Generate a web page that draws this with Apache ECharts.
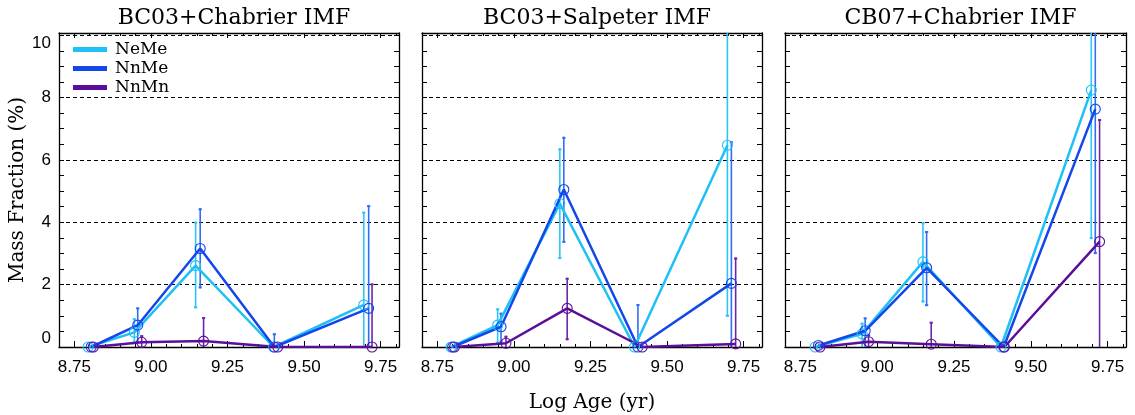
<!DOCTYPE html>
<html>
<head>
<meta charset="utf-8">
<script src="https://cdn.jsdelivr.net/npm/echarts@6/dist/echarts.min.js"></script>
<style>
  html, body { margin: 0; background: #fff; }
  #chart { width: 1135px; height: 415px; }
</style>
</head>
<body>
<div id="chart"></div>
<script>
const panelTitles = ["BC03+Chabrier IMF", "BC03+Salpeter IMF", "CB07+Chabrier IMF"];
const seriesNames = ["NeMe", "NnMe", "NnMn"];
const xTicks = [8.75, 9.0, 9.25, 9.5, 9.75];
const yTicks = [0, 2, 4, 6, 8, 10];

// rows: NeMe, NnMe, NnMn  (log age, mass fraction %, lower / upper end of error bar)
const bc03chAge = [
  [8.795, 8.946, 9.146, 9.401, 9.695],
  [8.805, 8.957, 9.161, 9.403, 9.711],
  [8.812, 8.970, 9.172, 9.414, 9.722],
];
const bc03chFrac = [
  [0, 0.47, 2.61, 0, 1.35],
  [0, 0.70, 3.16, 0, 1.24],
  [0, 0.15, 0.19, 0, 0],
];
const bc03chLo = [
  [0, 0.12, 1.24, 0, 0],
  [0, 0.13, 1.88, 0, 0],
  [0, 0, 0, 0, 0],
];
const bc03chHi = [
  [0, 0.92, 4.02, 0, 4.34],
  [0, 1.27, 4.45, 0.44, 4.55],
  [0, 0.38, 0.96, 0, 2.04],
];

const bc03saAge = [
  [8.795, 8.947, 9.150, 9.394, 9.697],
  [8.800, 8.958, 9.163, 9.405, 9.710],
  [8.806, 8.974, 9.174, 9.419, 9.724],
];
const bc03saFrac = [
  [0, 0.70, 4.60, 0, 6.47],
  [0, 0.65, 5.05, 0, 2.04],
  [0, 0.12, 1.24, 0, 0.10],
];
const bc03saLo = [
  [0, 0.10, 2.82, 0, 0.97],
  [0, 0.14, 3.34, 0, 0],
  [0, 0, 0.22, 0, 0],
];
const bc03saHi = [
  [0, 1.24, 6.37, 0, 11],
  [0, 1.10, 6.74, 1.38, 6.60],
  [0, 0.36, 2.22, 0, 2.87],
];

const cb07chAge = [
  [8.798, 8.951, 9.149, 9.403, 9.697],
  [8.809, 8.961, 9.161, 9.412, 9.710],
  [8.814, 8.972, 9.176, 9.414, 9.724],
];
const cb07chFrac = [
  [0, 0.42, 2.73, 0, 8.24],
  [0.05, 0.52, 2.54, 0, 7.63],
  [0, 0.17, 0.09, 0, 3.38],
];
const cb07chLo = [
  [0, 0, 1.43, 0, 3.46],
  [0, 0, 1.31, 0, 2.98],
  [0, 0, 0, 0, 0],
];
const cb07chHi = [
  [0, 0.78, 4.00, 0, 11],
  [0, 0.95, 3.72, 0.20, 11],
  [0, 0.41, 0.81, 0, 7.31],
];

const panels = [
  { age: bc03chAge, frac: bc03chFrac, lo: bc03chLo, hi: bc03chHi },
  { age: bc03saAge, frac: bc03saFrac, lo: bc03saLo, hi: bc03saHi },
  { age: cb07chAge, frac: cb07chFrac, lo: cb07chLo, hi: cb07chHi },
];

const lineColors = ["#1ec0f5", "#1447eb", "#5b0e99"];
const barColors = ["#2cc6f6", "#2f6ff5", "#6a28a8"];
const gridLeft = [59, 422, 785];
const gridWidth = [340, 340, 341];
const X_MIN = 8.7, X_MAX = 9.81, Y_MIN = 0, Y_MAX = 10.07;

const serif = "DejaVu Serif";
const sans = "Liberation Sans";

const xMinor = [];
for (let i = 0; i <= 22; i++) {
  const v = +(8.7 + i * 0.05).toFixed(2);
  if (!xTicks.some((t) => Math.abs(t - v) < 1e-6)) xMinor.push(v);
}
const yMinor = [];
for (let i = 1; i <= 20; i++) {
  if (i % 4 !== 0) yMinor.push(i * 0.5);
}

const black = "#000";
const grids = [], xAxes = [], yAxes = [], series = [];

function xAxis(p, position, ticks, len, showLine, extra) {
  return Object.assign({
    type: "value", gridIndex: p, position, min: X_MIN, max: X_MAX,
    axisLine: { show: showLine, onZero: false, lineStyle: { color: black, width: 1.3 } },
    axisTick: { show: true, inside: true, length: len, customValues: ticks, lineStyle: { color: black, width: 1 } },
    axisLabel: { show: false },
    splitLine: { show: false },
  }, extra || {});
}
function yAxis(p, position, ticks, len, showLine, extra) {
  return Object.assign({
    type: "value", gridIndex: p, position, min: Y_MIN, max: Y_MAX,
    axisLine: { show: showLine, onZero: false, lineStyle: { color: black, width: 1.3 } },
    axisTick: { show: true, inside: true, length: len, customValues: ticks, lineStyle: { color: black, width: 1 } },
    axisLabel: { show: false },
    splitLine: { show: false },
  }, extra || {});
}

panels.forEach((pd, p) => {
  grids.push({
    left: gridLeft[p], width: gridWidth[p], top: 33, height: 314,
    containLabel: false, outerBoundsMode: "none",
  });

  const xi = xAxes.length;
  xAxes.push(xAxis(p, "bottom", xTicks, 6, true, {
    axisLabel: {
      show: true, customValues: xTicks, margin: 12, color: black,
      fontFamily: sans, fontSize: 17, formatter: (v) => v.toFixed(2),
    },
    name: p === 1 ? "Log Age (yr)" : "",
    nameLocation: "middle", nameGap: 46,
    nameTextStyle: { fontFamily: serif, fontSize: 20, color: black },
  }));
  xAxes.push(xAxis(p, "bottom", xMinor, 3, false));
  xAxes.push(xAxis(p, "top", xTicks, 5, true));
  xAxes.push(xAxis(p, "top", xMinor, 3, false));

  const yi = yAxes.length;
  yAxes.push(yAxis(p, "left", yTicks, 5, true, {
    axisLabel: {
      show: p === 0, customValues: yTicks, margin: 8, color: black,
      fontFamily: sans, fontSize: 17,
      verticalAlignMinLabel: "bottom", verticalAlignMaxLabel: "top",
    },
    splitLine: { show: true, lineStyle: { color: black, width: 1, type: [4, 3] } },
    name: p === 0 ? "Mass Fraction (%)" : "",
    nameLocation: "middle", nameGap: 29,
    nameTextStyle: { fontFamily: serif, fontSize: 20, color: black },
  }));
  yAxes.push(yAxis(p, "left", yMinor, 5, false));
  yAxes.push(yAxis(p, "right", yTicks, 5, true));
  yAxes.push(yAxis(p, "right", yMinor, 5, false));

  seriesNames.forEach((name, s) => {
    const bars = [];
    pd.age[s].forEach((a, i) => {
      if (pd.hi[s][i] > pd.lo[s][i]) bars.push([a, pd.lo[s][i], pd.hi[s][i]]);
    });
    series.push({
      name: name + " err", type: "custom", xAxisIndex: xi, yAxisIndex: yi,
      data: bars, encode: { x: 0, y: [1, 2] }, z: 2, silent: true,
      renderItem: (params, api) => {
        const x = api.value(0), lo = api.value(1), hi = api.value(2);
        const t = api.coord([x, hi]), b = api.coord([x, lo]);
        const cs = params.coordSys;
        const yTop = Math.max(t[1], cs.y), yBot = Math.min(b[1], cs.y + cs.height);
        const st = { stroke: barColors[s], lineWidth: 1.6 };
        const kids = [{ type: "line", shape: { x1: t[0], y1: yTop, x2: t[0], y2: yBot }, style: st }];
        if (t[1] > cs.y) kids.push({ type: "line", shape: { x1: t[0] - 1.6, y1: t[1] + 1, x2: t[0] + 1.6, y2: t[1] + 1 }, style: { stroke: barColors[s], lineWidth: 2 } });
        if (lo > 0) kids.push({ type: "line", shape: { x1: b[0] - 1.6, y1: b[1] - 1, x2: b[0] + 1.6, y2: b[1] - 1 }, style: { stroke: barColors[s], lineWidth: 2 } });
        return { type: "group", children: kids };
      },
    });
    series.push({
      name, type: "line", xAxisIndex: xi, yAxisIndex: yi,
      data: pd.age[s].map((a, i) => [a, pd.frac[s][i]]),
      symbol: "circle", symbolSize: 10, showAllSymbol: true,
      lineStyle: { color: lineColors[s], width: 2.5 },
      itemStyle: { color: "rgba(0,0,0,0)", borderColor: lineColors[s], borderWidth: 1.1 },
      z: 3, animation: false,
    });
  });
});

const chart = echarts.init(document.getElementById("chart"), null, { renderer: "canvas" });
chart.setOption({
  animation: false,
  backgroundColor: "#fff",
  title: panelTitles.map((t, p) => ({
    text: t, left: gridLeft[p] + gridWidth[p] / 2, top: 2, textAlign: "center",
    textStyle: { fontFamily: serif, fontSize: 22, fontWeight: "normal", color: black },
  })),
  legend: {
    data: seriesNames.map((n) => ({ name: n, icon: "rect", itemStyle: { color: lineColors[seriesNames.indexOf(n)] } })),
    orient: "vertical", left: 68, top: 36,
    itemWidth: 32, itemHeight: 3, itemGap: 2,
    textStyle: { fontFamily: serif, fontSize: 17, color: black, lineHeight: 17, padding: [0, 0, 0, 4] },
  },
  grid: grids,
  xAxis: xAxes,
  yAxis: yAxes,
  series,
});
</script>
</body>
</html>
